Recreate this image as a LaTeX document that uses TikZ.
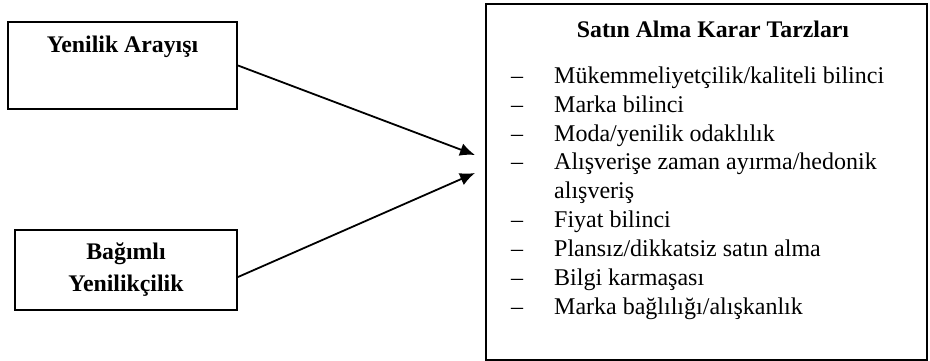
\documentclass[tikz,border=0pt]{standalone}
\usepackage{fontspec}
\setmainfont{Liberation Serif}
\usetikzlibrary{arrows.meta,positioning}

\begin{document}
\begin{tikzpicture}[
x=1pt, y=-1pt,
font=\fontsize{24}{28.9}\selectfont,
kutu/.style={
draw,
line width=2pt,
inner sep=0pt,
align=center,
font=\fontsize{23.8}{32}\selectfont\bfseries
},
line/.style={-{Latex[length=15pt,width=13pt]}, line width=1.8pt}
]
\useasboundingbox (0,0) rectangle (930,361);

\node[kutu, minimum width=229pt, minimum height=87pt] (arayis) at (122.5,65.5)
{Yenilik Arayışı\\ \strut};

\node[kutu, minimum width=222pt, minimum height=80pt] (bagimli) at (126,270)
{\raisebox{-3pt}{Bağımlı}\\\raisebox{-3pt}{Yenilikçilik}};

\node[kutu, minimum width=441pt, minimum height=356pt] (karar) at (706.5,182) {};

\node[font=\fontsize{23.8}{28.9}\selectfont\bfseries, anchor=base, inner sep=0pt]
(baslik) at (713,37.5) {Satın Alma Karar Tarzları};

\node[anchor=base west, inner sep=0pt] (tarzlar) at (511,83.3) {%
\begin{tabular}[t]{@{}p{43pt}@{}l@{}}
-- & Mükemmeliyetçilik/kaliteli bilinci\\
-- & Marka bilinci\\
-- & Moda/yenilik odaklılık\\
-- & Alışverişe zaman ayırma/hedonik\\
   & alışveriş\\
-- & Fiyat bilinci\\
-- & Plansız/dikkatsiz satın alma\\
-- & Bilgi karmaşası\\
-- & Marka bağlılığı/alışkanlık
\end{tabular}};

% arrows
\coordinate (uc1) at (475,155);
\coordinate (uc2) at (475,173);
\draw[line] (arayis.east) -- (uc1);
\draw[line] (bagimli.east |- 0,277) -- (uc2);

\end{tikzpicture}
\end{document}
